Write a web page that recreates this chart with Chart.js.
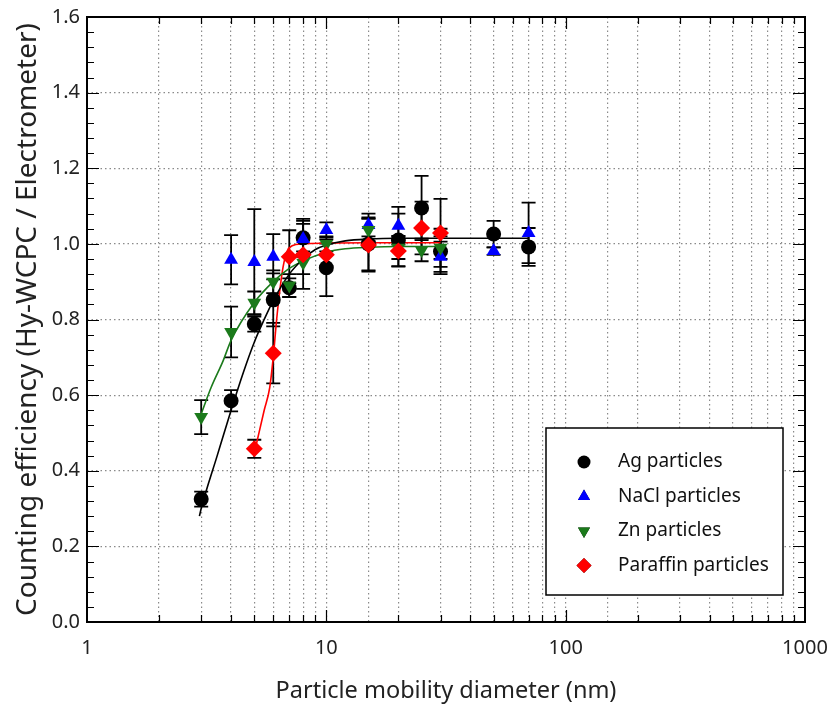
<!DOCTYPE html>
<html>
<head>
<meta charset="utf-8">
<script src="https://cdn.jsdelivr.net/npm/chart.js@4"></script>
<style>
  html, body { margin: 0; padding: 0; background: #fff; }
  #wrap { width: 831px; height: 709px; }
</style>
</head>
<body>
<div id="wrap"><canvas id="effChart" width="831" height="709"></canvas></div>
<script>
// measured points
const agX = [3, 4, 5, 6, 7, 8, 10, 15, 20, 25, 30, 50, 70];
const agY = [0.325, 0.585, 0.788, 0.852, 0.884, 1.016, 0.937, 1.0, 1.01, 1.095, 0.98, 1.026, 0.992];
const agErr = [0.02, 0.028, 0.02, 0.07, 0.025, 0.05, 0.075, 0.07, 0.07, 0.085, 0.06, 0.035, 0.05];

const naclX = [4, 5, 6, 8, 10, 15, 20, 30, 50, 70];
const naclY = [0.958, 0.952, 0.966, 1.013, 1.037, 1.05, 1.048, 0.966, 0.981, 1.029];
const naclErr = [0.065, 0.14, 0.06, 0.04, 0.02, 0.03, 0.05, 0.04, 0.01, 0.08];

const znX = [3, 4, 5, 6, 7, 8, 10, 15, 20, 25, 30];
const znY = [0.542, 0.767, 0.844, 0.9, 0.89, 0.95, 1.0, 1.037, 0.99, 0.984, 0.99];
const znErr = [0.045, 0.067, 0.03, 0.03, 0.03, 0.03, 0.02, 0.03, 0.03, 0.03, 0.03];

const parX = [5, 6, 7, 8, 10, 15, 20, 25, 30];
const parY = [0.458, 0.711, 0.966, 0.971, 0.971, 0.997, 0.981, 1.042, 1.029];
const parErr = [0.024, 0.08, 0.07, 0.09, 0.03, 0.07, 0.04, 0.07, 0.09];

// fitted curves
const agFitX = [2.95, 3, 3.5, 4, 4.5, 5, 5.5, 6, 7, 8, 9, 10, 12, 15, 20, 30, 70];
const agFitY = [0.28, 0.30, 0.44, 0.56, 0.66, 0.74, 0.80, 0.85, 0.92, 0.96, 0.985, 0.997, 1.008, 1.013, 1.015, 1.015, 1.015];

const znFitX = [3, 3.3, 3.7, 4, 5, 6, 7, 8, 10, 12, 15, 20, 30];
const znFitY = [0.55, 0.62, 0.69, 0.745, 0.845, 0.9, 0.935, 0.955, 0.978, 0.987, 0.991, 0.993, 0.993];

const parFitX = [5.1, 5.5, 5.8, 6.0, 6.2, 6.4, 6.6, 6.85, 7.2, 8, 10, 15, 30];
const parFitY = [0.47, 0.56, 0.62, 0.70, 0.80, 0.88, 0.94, 0.98, 0.995, 1.0, 1.002, 1.003, 1.003];

const xTickLabels = [1, 10, 100, 1000];
const legendNames = ['Ag particles', 'NaCl particles', 'Zn particles', 'Paraffin particles'];

const FONT = "'Noto Sans', 'Open Sans', sans-serif";
const BLACK = '#000000';
const BLUE = '#0000ff';
const GREEN = '#1b7a1b';
const RED = '#ff0000';

const toPts = (xs, ys) => xs.map((x, i) => ({x: x, y: ys[i]}));

const errorBars = {
    id: 'errorBars',
    beforeDatasetsDraw(chart) {
        const ctx = chart.ctx;
        const xs = chart.scales.x, ys = chart.scales.y;
        ctx.save();
        ctx.strokeStyle = '#000';
        ctx.lineWidth = 1.8;
        chart.data.datasets.forEach((ds) => {
            if (!ds.errors) return;
            ds.data.forEach((p, i) => {
                const px = xs.getPixelForValue(p.x);
                const top = ys.getPixelForValue(p.y + ds.errors[i]);
                const bot = ys.getPixelForValue(p.y - ds.errors[i]);
                ctx.beginPath();
                ctx.moveTo(px, top); ctx.lineTo(px, bot);
                ctx.moveTo(px - 7, top); ctx.lineTo(px + 7, top);
                ctx.moveTo(px - 7, bot); ctx.lineTo(px + 7, bot);
                ctx.stroke();
            });
        });
        ctx.restore();
    }
};

// frame with inward ticks on all four sides
const frameTicks = {
    id: 'frameTicks',
    afterDatasetsDraw(chart) {
        const ctx = chart.ctx;
        const {left, right, top, bottom} = chart.chartArea;
        const xs = chart.scales.x, ys = chart.scales.y;
        ctx.save();
        ctx.strokeStyle = '#000';
        ctx.lineWidth = 1.2;
        ctx.beginPath();
        for (let d = 1; d < 1000; d *= 10) {
            for (let m = 1; m <= 9; m++) {
                const v = d * m;
                if (v <= 1 || v >= 1000) continue;
                const px = Math.round(xs.getPixelForValue(v)) + 0.5;
                const len = m === 1 ? 12 : 7;
                ctx.moveTo(px, bottom); ctx.lineTo(px, bottom - len);
                ctx.moveTo(px, top); ctx.lineTo(px, top + len);
            }
        }
        for (let k = 1; k < 40; k++) {
            const v = k * 0.04;
            const py = Math.round(ys.getPixelForValue(v)) + 0.5;
            const len = k % 5 === 0 ? 12 : 7;
            ctx.moveTo(left, py); ctx.lineTo(left + len, py);
            ctx.moveTo(right, py); ctx.lineTo(right - len, py);
        }
        ctx.stroke();
        ctx.lineWidth = 2;
        ctx.strokeRect(left, top, right - left, bottom - top);
        ctx.restore();
    }
};

const boxLegend = {
    id: 'boxLegend',
    afterDraw(chart) {
        const ctx = chart.ctx;
        const bx = 546, by = 428, bw = 237, bh = 167;
        ctx.save();
        ctx.fillStyle = '#fff';
        ctx.fillRect(bx, by, bw, bh);
        ctx.strokeStyle = '#000';
        ctx.lineWidth = 1.5;
        ctx.strokeRect(bx, by, bw, bh);
        const items = chart.data.datasets.filter((d) => d.legendIndex !== undefined);
        items.forEach((ds) => {
            const cy = by + 34 + ds.legendIndex * 34.5;
            Chart.helpers.drawPoint(ctx, {
                pointStyle: ds.pointStyle,
                rotation: ds.rotation || 0,
                radius: ds.legendRadius
            }, bx + 38, cy);
            ctx.fillStyle = ds.backgroundColor;
            ctx.fill();
            ctx.fillStyle = '#111';
            ctx.font = '19px ' + FONT;
            ctx.textBaseline = 'middle';
            ctx.fillText(legendNames[ds.legendIndex], bx + 72, cy);
        });
        ctx.restore();
    }
};

// lower order is painted on top: paraffin > zn > nacl > ag
const pointSet = (xs, ys, errs, color, style, radius, rot, li, ord) => ({
    data: toPts(xs, ys),
    errors: errs,
    backgroundColor: color,
    borderColor: color,
    pointStyle: style,
    pointRadius: radius,
    pointRotation: rot,
    rotation: rot,
    pointBorderWidth: 0,
    legendIndex: li,
    legendRadius: radius - 1,
    showLine: false,
    order: ord
});

const fitSet = (xs, ys, color) => ({
    data: toPts(xs, ys),
    borderColor: color,
    borderWidth: 1.6,
    pointRadius: 0,
    showLine: true,
    fill: false,
    cubicInterpolationMode: 'monotone',
    order: 5
});

new Chart(document.getElementById('effChart'), {
    type: 'scatter',
    data: {
        datasets: [
            pointSet(agX, agY, agErr, BLACK, 'circle', 7.5, 0, 0, 3),
            pointSet(naclX, naclY, naclErr, BLUE, 'triangle', 8, 0, 1, 2),
            pointSet(znX, znY, znErr, GREEN, 'triangle', 8, 180, 2, 1),
            pointSet(parX, parY, parErr, RED, 'rectRot', 8.5, 0, 3, 0),
            fitSet(agFitX, agFitY, BLACK),
            fitSet(znFitX, znFitY, GREEN),
            fitSet(parFitX, parFitY, RED)
        ]
    },
    options: {
        responsive: false,
        animation: false,
        layout: {padding: {left: 0, top: 17, right: 26, bottom: 0}},
        plugins: {legend: {display: false}, tooltip: {enabled: false}},
        scales: {
            x: {
                type: 'logarithmic',
                min: 1,
                max: 1000,
                afterFit: (s) => { s.height = 87; s.paddingLeft = 0; s.paddingRight = 0; },
                border: {display: false, dash: [1.5, 3]},
                grid: {color: '#8a8a8a', lineWidth: 1.2, drawTicks: false},
                ticks: {
                    autoSkip: false,
                    maxRotation: 0,
                    padding: 14,
                    color: '#222',
                    font: {family: FONT, size: 20},
                    callback: (v) => xTickLabels.includes(Number(v)) ? String(v) : ''
                },
                title: {
                    display: true,
                    text: 'Particle mobility diameter (nm)',
                    color: '#222',
                    font: {family: FONT, size: 23.5},
                    padding: {top: 0, bottom: 4}
                }
            },
            y: {
                min: 0,
                max: 1.6,
                afterFit: (s) => { s.width = 87; s.paddingTop = 0; s.paddingBottom = 0; },
                border: {display: false, dash: [1.5, 3]},
                grid: {color: '#8a8a8a', lineWidth: 1.2, drawTicks: false},
                ticks: {
                    stepSize: 0.2,
                    padding: 7,
                    color: '#222',
                    font: {family: FONT, size: 20},
                    callback: (v) => Number(v).toFixed(1)
                },
                title: {
                    display: true,
                    text: 'Counting efficiency (Hy-WCPC / Electrometer)',
                    color: '#222',
                    font: {family: FONT, size: 28},
                    padding: {top: 11, bottom: 0}
                }
            }
        }
    },
    plugins: [errorBars, frameTicks, boxLegend]
});
</script>
</body>
</html>
